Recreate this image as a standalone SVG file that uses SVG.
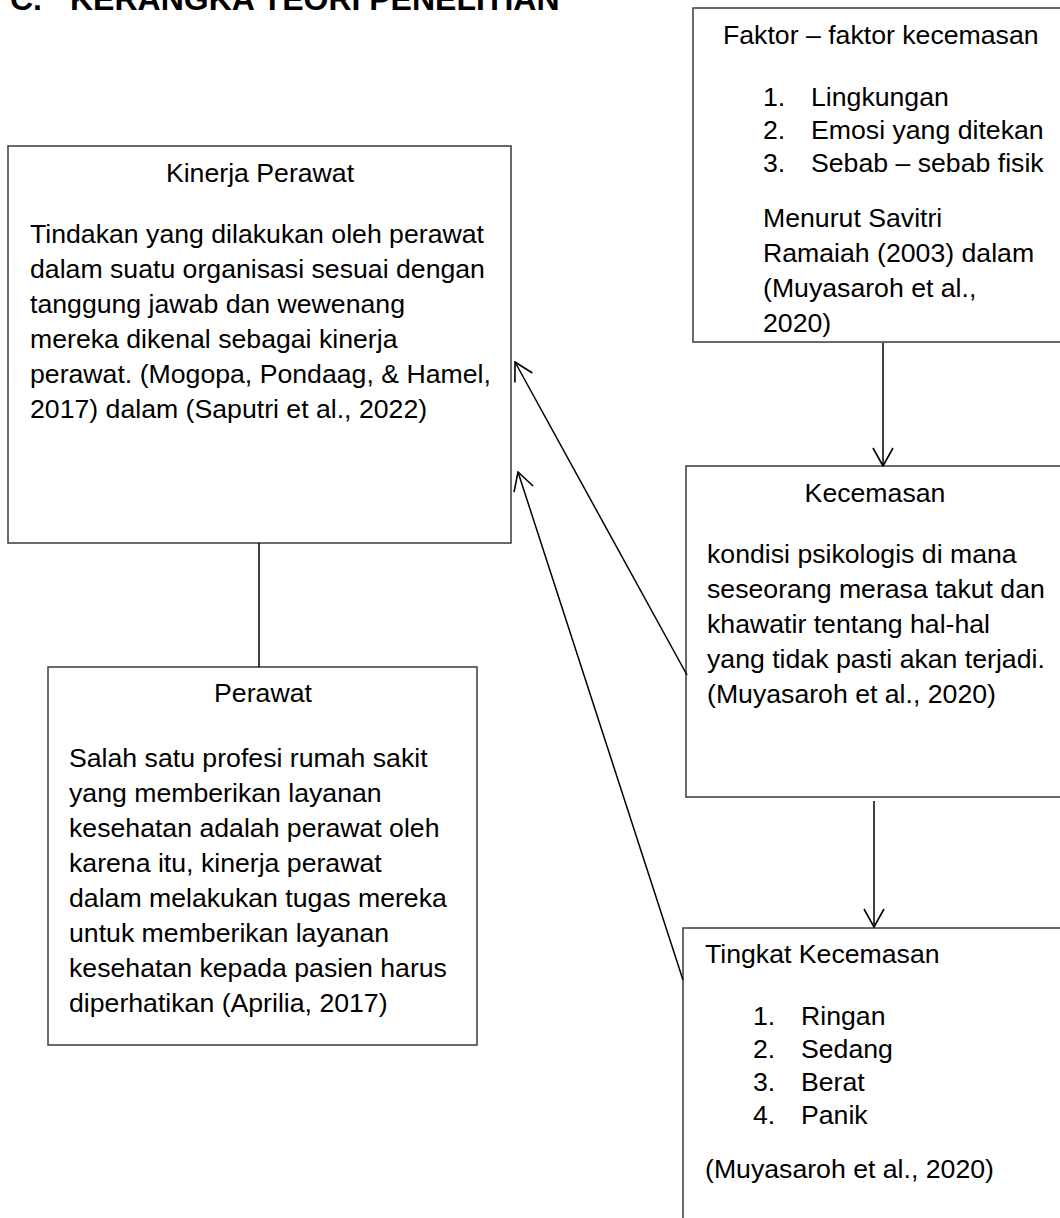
<svg xmlns="http://www.w3.org/2000/svg" width="1060" height="1218" viewBox="0 0 1060 1218">
<style>
text{font-family:"Liberation Sans",Arial,sans-serif;font-size:26.67px;fill:#000}
.title{font-size:32px;font-weight:bold}
.c{text-anchor:middle}
.box{fill:#fff;stroke:#3a3a3a;stroke-width:1.5}
.ln{stroke:#000;stroke-width:1.5;fill:none}
.arr{marker-end:url(#open)}
</style>
<defs>
<marker id="open" markerUnits="userSpaceOnUse" viewBox="0 0 20 22" markerWidth="20" markerHeight="22" refX="19" refY="11" orient="auto">
<path d="M1,1 L19,11 L1,21" fill="none" stroke="#000" stroke-width="1.6"/>
</marker>
</defs>
<text class="title" x="10" y="10">C.</text>
<text class="title" x="70" y="10">KERANGKA TEORI PENELITIAN</text>

<g id="faktor">
<rect class="box" x="693" y="8" width="380" height="334"/>
<text x="723" y="44">Faktor – faktor kecemasan</text>
<text x="763" y="106">1.</text><text x="811" y="106">Lingkungan</text>
<text x="763" y="139">2.</text><text x="811" y="139">Emosi yang ditekan</text>
<text x="763" y="172">3.</text><text x="811" y="172">Sebab – sebab fisik</text>
<text x="763" y="227">Menurut Savitri</text>
<text x="763" y="262">Ramaiah (2003) dalam</text>
<text x="763" y="297">(Muyasaroh et al.,</text>
<text x="763" y="332">2020)</text>
</g>

<g id="kinerja">
<rect class="box" x="8" y="146" width="503" height="397"/>
<text class="c" x="260" y="182">Kinerja Perawat</text>
<text x="30" y="243">Tindakan yang dilakukan oleh perawat</text>
<text x="30" y="278">dalam suatu organisasi sesuai dengan</text>
<text x="30" y="313">tanggung jawab dan wewenang</text>
<text x="30" y="348">mereka dikenal sebagai kinerja</text>
<text x="30" y="383">perawat. (Mogopa, Pondaag, &amp; Hamel,</text>
<text x="30" y="418">2017) dalam (Saputri et al., 2022)</text>
</g>

<g id="kecemasan">
<rect class="box" x="686" y="466" width="390" height="331"/>
<text class="c" x="875" y="502">Kecemasan</text>
<text x="707" y="563">kondisi psikologis di mana</text>
<text x="707" y="598">seseorang merasa takut dan</text>
<text x="707" y="633">khawatir tentang hal-hal</text>
<text x="707" y="668">yang tidak pasti akan terjadi.</text>
<text x="707" y="703">(Muyasaroh et al., 2020)</text>
</g>

<g id="perawat">
<rect class="box" x="48" y="667" width="429" height="378"/>
<text class="c" x="263" y="702">Perawat</text>
<text x="69" y="767">Salah satu profesi rumah sakit</text>
<text x="69" y="802">yang memberikan layanan</text>
<text x="69" y="837">kesehatan adalah perawat oleh</text>
<text x="69" y="872">karena itu, kinerja perawat</text>
<text x="69" y="907">dalam melakukan tugas mereka</text>
<text x="69" y="942">untuk memberikan layanan</text>
<text x="69" y="977">kesehatan kepada pasien harus</text>
<text x="69" y="1012">diperhatikan (Aprilia, 2017)</text>
</g>

<g id="tingkat">
<rect class="box" x="683" y="928" width="400" height="320"/>
<text x="705" y="963">Tingkat Kecemasan</text>
<text x="753" y="1025">1.</text><text x="801" y="1025">Ringan</text>
<text x="753" y="1058">2.</text><text x="801" y="1058">Sedang</text>
<text x="753" y="1091">3.</text><text x="801" y="1091">Berat</text>
<text x="753" y="1124">4.</text><text x="801" y="1124">Panik</text>
<text x="705" y="1178">(Muyasaroh et al., 2020)</text>
</g>

<g id="connectors">
<line class="ln arr" x1="883" y1="343" x2="883" y2="466"/>
<line class="ln arr" x1="874" y1="801" x2="874" y2="927"/>
<line class="ln arr" x1="687" y1="675" x2="515" y2="362"/>
<line class="ln arr" x1="683" y1="980" x2="518" y2="472"/>
<line class="ln" x1="259" y1="543" x2="259" y2="667"/>
</g>
</svg>
